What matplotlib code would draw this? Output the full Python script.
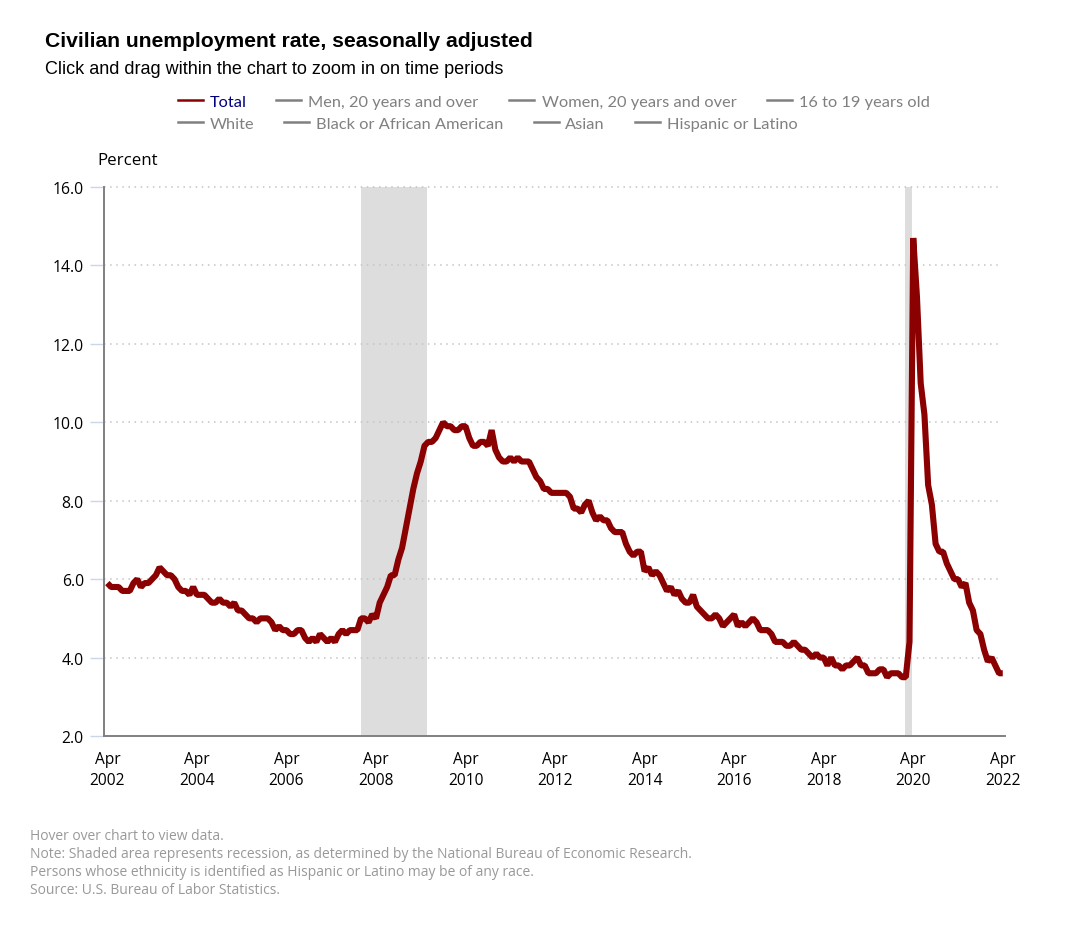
import matplotlib
matplotlib.use("Agg")
import matplotlib.pyplot as plt
from matplotlib.lines import Line2D

W, H = 1079, 929

# monthly rate, starts Apr 2002
rate_2002 = [5.9, 5.8, 5.8, 5.8, 5.7, 5.7, 5.7, 5.9, 6.0]
rate_2003 = [5.8, 5.9, 5.9, 6.0, 6.1, 6.3, 6.2, 6.1, 6.1, 6.0, 5.8, 5.7]
rate_2004 = [5.7, 5.6, 5.8, 5.6, 5.6, 5.6, 5.5, 5.4, 5.4, 5.5, 5.4, 5.4]
rate_2005 = [5.3, 5.4, 5.2, 5.2, 5.1, 5.0, 5.0, 4.9, 5.0, 5.0, 5.0, 4.9]
rate_2006 = [4.7, 4.8, 4.7, 4.7, 4.6, 4.6, 4.7, 4.7, 4.5, 4.4, 4.5, 4.4]
rate_2007 = [4.6, 4.5, 4.4, 4.5, 4.4, 4.6, 4.7, 4.6, 4.7, 4.7, 4.7, 5.0]
rate_2008 = [5.0, 4.9, 5.1, 5.0, 5.4, 5.6, 5.8, 6.1, 6.1, 6.5, 6.8, 7.3]
rate_2009 = [7.8, 8.3, 8.7, 9.0, 9.4, 9.5, 9.5, 9.6, 9.8, 10.0, 9.9, 9.9]
rate_2010 = [9.8, 9.8, 9.9, 9.9, 9.6, 9.4, 9.4, 9.5, 9.5, 9.4, 9.8, 9.3]
rate_2011 = [9.1, 9.0, 9.0, 9.1, 9.0, 9.1, 9.0, 9.0, 9.0, 8.8, 8.6, 8.5]
rate_2012 = [8.3, 8.3, 8.2, 8.2, 8.2, 8.2, 8.2, 8.1, 7.8, 7.8, 7.7, 7.9]
rate_2013 = [8.0, 7.7, 7.5, 7.6, 7.5, 7.5, 7.3, 7.2, 7.2, 7.2, 6.9, 6.7]
rate_2014 = [6.6, 6.7, 6.7, 6.2, 6.3, 6.1, 6.2, 6.1, 5.9, 5.7, 5.8, 5.6]
rate_2015 = [5.7, 5.5, 5.4, 5.4, 5.6, 5.3, 5.2, 5.1, 5.0, 5.0, 5.1, 5.0]
rate_2016 = [4.8, 4.9, 5.0, 5.1, 4.8, 4.9, 4.8, 4.9, 5.0, 4.9, 4.7, 4.7]
rate_2017 = [4.7, 4.6, 4.4, 4.4, 4.4, 4.3, 4.3, 4.4, 4.3, 4.2, 4.2, 4.1]
rate_2018 = [4.0, 4.1, 4.0, 4.0, 3.8, 4.0, 3.8, 3.8, 3.7, 3.8, 3.8, 3.9]
rate_2019 = [4.0, 3.8, 3.8, 3.6, 3.6, 3.6, 3.7, 3.7, 3.5, 3.6, 3.6, 3.6]
rate_2020 = [3.5, 3.5, 4.4, 14.7, 13.2, 11.0, 10.2, 8.4, 7.9, 6.9, 6.7, 6.7]
rate_2021 = [6.4, 6.2, 6.0, 6.0, 5.8, 5.9, 5.4, 5.2, 4.7, 4.6, 4.2, 3.9]
rate_2022 = [4.0, 3.8, 3.6, 3.6]

rates = (rate_2002 + rate_2003 + rate_2004 + rate_2005 + rate_2006 + rate_2007
         + rate_2008 + rate_2009 + rate_2010 + rate_2011 + rate_2012 + rate_2013
         + rate_2014 + rate_2015 + rate_2016 + rate_2017 + rate_2018 + rate_2019
         + rate_2020 + rate_2021 + rate_2022)
months = list(range(len(rates)))

# recessions as months since Apr 2002 (Dec 2007-Jun 2009, Feb 2020-Apr 2020)
recessions = [(68, 85.7), (213.9, 215.8)]

x_years = ["2002", "2004", "2006", "2008", "2010", "2012", "2014", "2016", "2018", "2020", "2022"]
x_ticks = list(range(0, 241, 24))
y_ticks = [2, 4, 6, 8, 10, 12, 14, 16]

legend_row1 = [("Total", 178, 210), ("Men, 20 years and over", 276, 308),
               ("Women, 20 years and over", 509, 542), ("16 to 19 years old", 767, 799)]
legend_row2 = [("White", 178, 210), ("Black or African American", 284, 316),
               ("Asian", 534, 565), ("Hispanic or Latino", 635, 667)]

notes = ["Hover over chart to view data.",
         "Note: Shaded area represents recession, as determined by the National Bureau of Economic Research.",
         "Persons whose ethnicity is identified as Hispanic or Latino may be of any race.",
         "Source: U.S. Bureau of Labor Statistics."]

LINE = "#8b0000"
GREY = "#808080"
UI_FONT = "Open Sans"
LEGEND_FONT = "Lato"


def fx(px):
    return px / W


def fy(px):
    return 1 - px / H


fig = plt.figure(figsize=(W / 100, H / 100), dpi=100, facecolor="white")
ax = fig.add_axes([fx(104), fy(737), (1005 - 104) / W, (737 - 188) / H])

ax.set_xlim(-0.9, 240.6)
ax.set_ylim(2, 16)

for start, end in recessions:
    ax.axvspan(start, end, color="#dddddd", lw=0, zorder=1)

ax.hlines(y_ticks[1:], -0.9, 239.4, colors="#c4c4c4", lw=1.1,
          linestyles=[(0, (1, 3))], zorder=2, clip_on=False)
ax.plot(months, rates, color=LINE, lw=4.4, solid_joinstyle="bevel",
        solid_capstyle="butt", zorder=3)

for side in ["top", "right"]:
    ax.spines[side].set_visible(False)
for side in ["left", "bottom"]:
    ax.spines[side].set_color(GREY)
    ax.spines[side].set_linewidth(1.4)

ax.set_yticks(y_ticks)
ax.set_yticklabels([f"{v:.1f}" for v in y_ticks], fontfamily=UI_FONT, fontsize=11.3, color="black")
ax.tick_params(axis="y", length=10, width=1, color="#ccd6eb", pad=4.5)
ax.set_xticks(x_ticks)
ax.set_xticklabels([f"Apr\n{y}" for y in x_years], fontfamily=UI_FONT, fontsize=11.2,
                   color="black", linespacing=1.42)
ax.tick_params(axis="x", length=0, pad=10.8)

fig.text(fx(45), fy(46.7), "Civilian unemployment rate, seasonally adjusted",
         family="Liberation Sans", weight="bold", fontsize=15.2, va="baseline", color="black")
fig.text(fx(45), fy(74), "Click and drag within the chart to zoom in on time periods",
         family="Liberation Sans", fontsize=13, va="baseline", color="black")
fig.text(fx(97), fy(165), "Percent", family=UI_FONT, fontsize=12.2, va="baseline", color="black")

for row, ypx in [(legend_row1, 101), (legend_row2, 123)]:
    for label, sample_x, text_x in row:
        is_total = label == "Total"
        fig.add_artist(Line2D([fx(sample_x), fx(sample_x + 25)], [fy(ypx), fy(ypx)],
                              color=LINE if is_total else GREY, lw=1.8,
                              transform=fig.transFigure))
        fig.text(fx(text_x), fy(ypx + 6.2), label, family=LEGEND_FONT, fontsize=11.75, va="baseline",
                 color="#000080" if is_total else GREY)

for i, line in enumerate(notes):
    fig.text(fx(30), fy(840 + i * 18), line, family=UI_FONT, fontsize=9.98, va="baseline",
             color="#999999")

fig.savefig("out.png", dpi=100)
